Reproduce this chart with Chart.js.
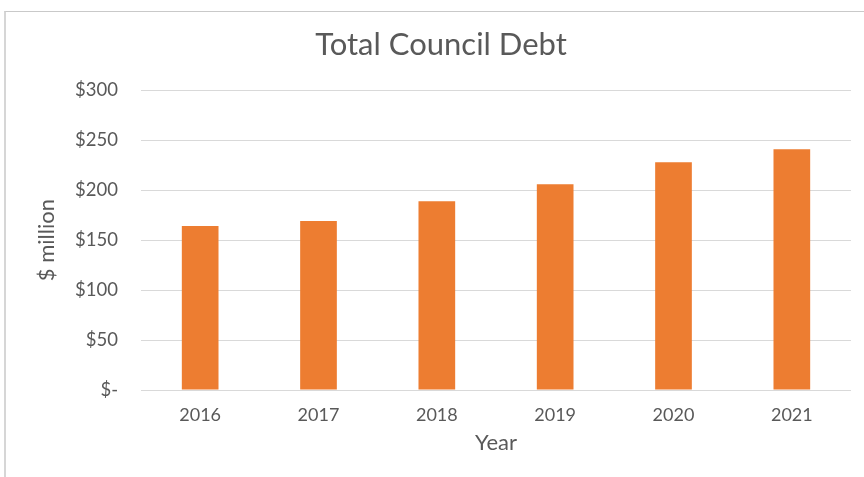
<!DOCTYPE html>
<html>
<head>
<meta charset="utf-8">
<script src="https://cdn.jsdelivr.net/npm/chart.js@4/dist/chart.umd.min.js"></script>
<style>
    html, body { margin: 0; padding: 0; background: #fff; overflow: hidden; }
    #wrap { position: relative; width: 864px; height: 477px; }
    #frame {
        position: absolute; left: 4px; top: 11px; width: 900px; height: 500px;
        border-top: 1px solid #c9c9c9; border-left: 2px solid #d6d6d6;
    }
    #debtChart { position: absolute; left: 0; top: 0; }
</style>
</head>
<body>
<div id="wrap">
    <div id="frame"></div>
    <canvas id="debtChart" width="864" height="477"></canvas>
</div>
<script>
var years = ['2016', '2017', '2018', '2019', '2020', '2021'];
var debt = [164, 169, 189, 206, 228, 241];   // $ million
var yTicks = [0, 50, 100, 150, 200, 250, 300];

var textGrey = '#595959';
var fontFamily = 'Lato, "Open Sans", sans-serif';

var ctx = document.getElementById('debtChart').getContext('2d');

var chart = new Chart(ctx, {
    type: 'bar',
    data: {
        labels: years,
        datasets: [{
            label: 'Total Council Debt',
            data: debt,
            backgroundColor: '#ED7D31',
            borderWidth: 0,
            barPercentage: 0.31,
            categoryPercentage: 1
        }]
    },
    options: {
        responsive: false,
        animation: false,
        layout: {
            padding: { left: 31, right: 13, top: 12, bottom: 0 }
        },
        plugins: {
            legend: { display: false },
            tooltip: { enabled: false },
            title: {
                display: true,
                text: 'Total Council Debt',
                color: textGrey,
                font: { family: fontFamily, size: 31, weight: 'normal' },
                padding: { top: 14, bottom: 27 }
            }
        },
        scales: {
            x: {
                grid: { display: false },
                border: { display: false },
                ticks: {
                    color: textGrey,
                    font: { family: fontFamily, size: 18 },
                    padding: 6
                },
                title: {
                    display: true,
                    text: 'Year',
                    color: textGrey,
                    font: { family: fontFamily, size: 22 },
                    padding: { top: 4, bottom: 21 }
                },
                afterFit: function (scale) { scale.height = 87; }
            },
            y: {
                min: 0,
                max: 300,
                afterBuildTicks: function (scale) {
                    scale.ticks = yTicks.map(function (v) { return { value: v }; });
                },
                grid: { color: '#d9d9d9', lineWidth: 1, drawTicks: false },
                border: { display: false },
                ticks: {
                    color: textGrey,
                    font: { family: fontFamily, size: 18.5 },
                    padding: 23,
                    callback: function (value) {
                        return value === 0 ? '$-' : '$' + value;
                    }
                },
                title: {
                    display: true,
                    text: '$ million',
                    color: textGrey,
                    font: { family: fontFamily, size: 22 },
                    padding: { top: 3, bottom: 4 }
                },
                afterFit: function (scale) { scale.width = 110; }
            }
        }
    }
});
</script>
</body>
</html>
